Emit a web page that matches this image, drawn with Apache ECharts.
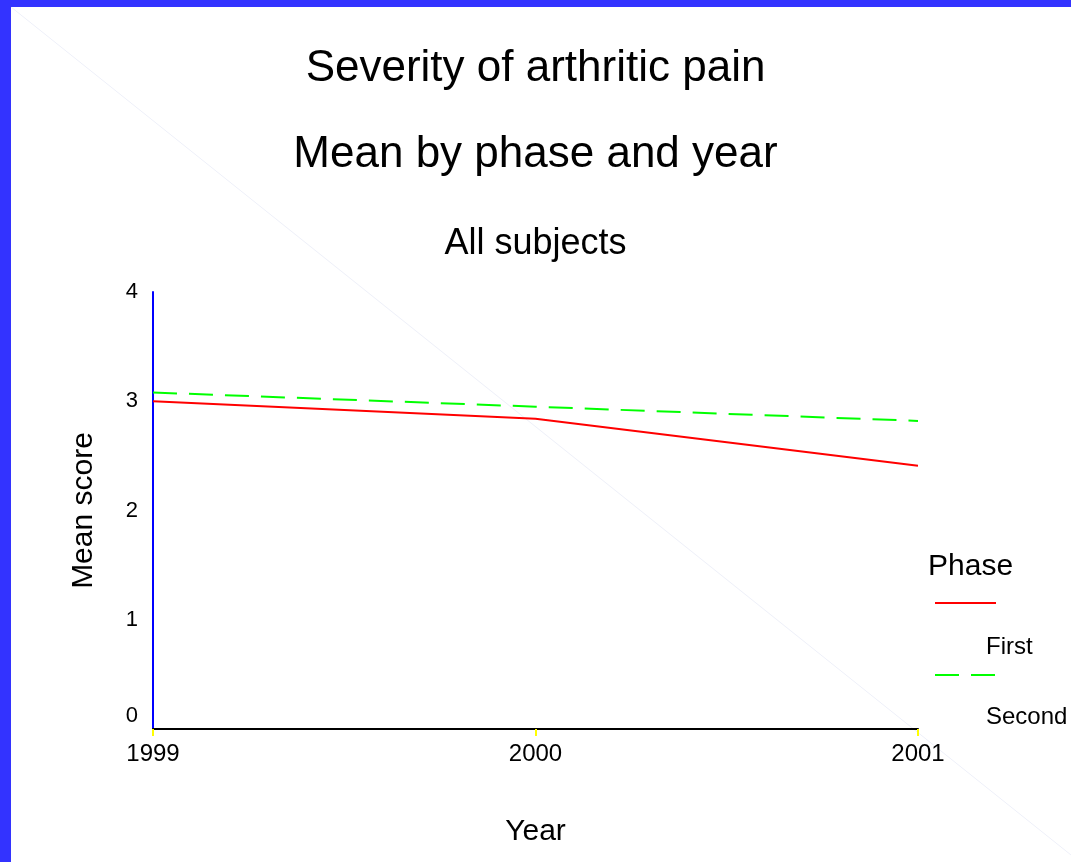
<!DOCTYPE html>
<html>
<head>
<meta charset="utf-8">
<script src="https://cdn.jsdelivr.net/npm/echarts@6/dist/echarts.min.js"></script>
<style>
  html, body { margin: 0; padding: 0; background: #ffffff; }
  #chart { width: 1071px; height: 862px; }
</style>
</head>
<body>
<div id="chart"></div>
<script>
// Mean arthritic pain score by study year, one line per phase
const years = ['1999', '2000', '2001'];
const firstPhase = [3.0, 2.84, 2.41];
const secondPhase = [3.08, 2.95, 2.82];
const yTicks = [0, 1, 2, 3, 4];

const FONT = 'Liberation Sans, Arial, sans-serif';
const chart = echarts.init(document.getElementById('chart'));

chart.setOption({
  backgroundColor: '#ffffff',
  animation: false,
  textStyle: { fontFamily: FONT },
  title: [
    { text: 'Severity of arthritic pain', left: 'center', top: 42,
      textStyle: { fontSize: 44, fontWeight: 'normal', color: '#000', fontFamily: FONT } },
    { text: 'Mean by phase and year', left: 'center', top: 128,
      textStyle: { fontSize: 44, fontWeight: 'normal', color: '#000', fontFamily: FONT } },
    { text: 'All subjects', left: 'center', top: 221,
      textStyle: { fontSize: 36, fontWeight: 'normal', color: '#000', fontFamily: FONT } }
  ],
  grid: { left: 153, right: 153, top: 292, bottom: 133, containLabel: false },
  xAxis: {
    type: 'category',
    data: years,
    boundaryGap: false,
    name: 'Year',
    nameLocation: 'middle',
    nameGap: 88,
    nameTextStyle: { fontSize: 30, color: '#000', fontFamily: FONT },
    axisLine: { lineStyle: { color: '#000', width: 2 } },
    axisTick: { show: true, length: 7, inside: false, alignWithLabel: true,
      lineStyle: { color: '#ffff00', width: 2 } },
    axisLabel: { fontSize: 24, color: '#000', margin: 13, fontFamily: FONT },
    splitLine: { show: false }
  },
  yAxis: {
    type: 'value',
    min: yTicks[0],
    max: yTicks[yTicks.length - 1],
    interval: 1,
    name: 'Mean score',
    nameLocation: 'middle',
    nameGap: 54,
    nameRotate: 90,
    nameTextStyle: { fontSize: 30, color: '#000', fontFamily: FONT },
    axisLine: { show: true, lineStyle: { color: '#0000ff', width: 2 } },
    axisTick: { show: false },
    axisLabel: {
      fontSize: 22, color: '#000', margin: 15, fontFamily: FONT,
      // the zero label sits a little above the baseline, clear of the year labels
      formatter: v => (v === 0 ? '{zero|0}' : String(v)),
      rich: { zero: { fontSize: 22, color: '#000', fontFamily: FONT, padding: [0, 0, 26, 0] } }
    },
    splitLine: { show: false }
  },
  series: [
    { name: 'First', type: 'line', data: firstPhase, symbol: 'none',
      lineStyle: { color: '#ff0000', width: 2 }, itemStyle: { color: '#ff0000' } },
    { name: 'Second', type: 'line', data: secondPhase, symbol: 'none',
      lineStyle: { color: '#00ff00', width: 2, type: [24, 12] }, itemStyle: { color: '#00ff00' } }
  ],
  graphic: [
    // frame: blue bands along the top and left, faint diagonal across the page
    { type: 'rect', left: 0, top: 0, shape: { width: 1071, height: 7 }, style: { fill: '#3333ff' }, z: -1 },
    { type: 'rect', left: 0, top: 0, shape: { width: 11, height: 862 }, style: { fill: '#3333ff' }, z: -1 },
    { type: 'line', shape: { x1: 11, y1: 7, x2: 1071, y2: 855 },
      style: { stroke: '#eef0f9', lineWidth: 1 }, z: -2 },
    // legend block
    { type: 'text', x: 928, y: 567,
      style: { text: 'Phase', fontSize: 30, fill: '#000', fontFamily: FONT, verticalAlign: 'middle' } },
    { type: 'line', shape: { x1: 935, y1: 603, x2: 996, y2: 603 }, style: { stroke: '#ff0000', lineWidth: 2 } },
    { type: 'text', x: 986, y: 647,
      style: { text: 'First', fontSize: 24, fill: '#000', fontFamily: FONT, verticalAlign: 'middle' } },
    { type: 'line', shape: { x1: 935, y1: 675, x2: 996, y2: 675 },
      style: { stroke: '#00ff00', lineWidth: 2, lineDash: [24, 12] } },
    { type: 'text', x: 986, y: 717,
      style: { text: 'Second', fontSize: 24, fill: '#000', fontFamily: FONT, verticalAlign: 'middle' } }
  ]
});
</script>
</body>
</html>
